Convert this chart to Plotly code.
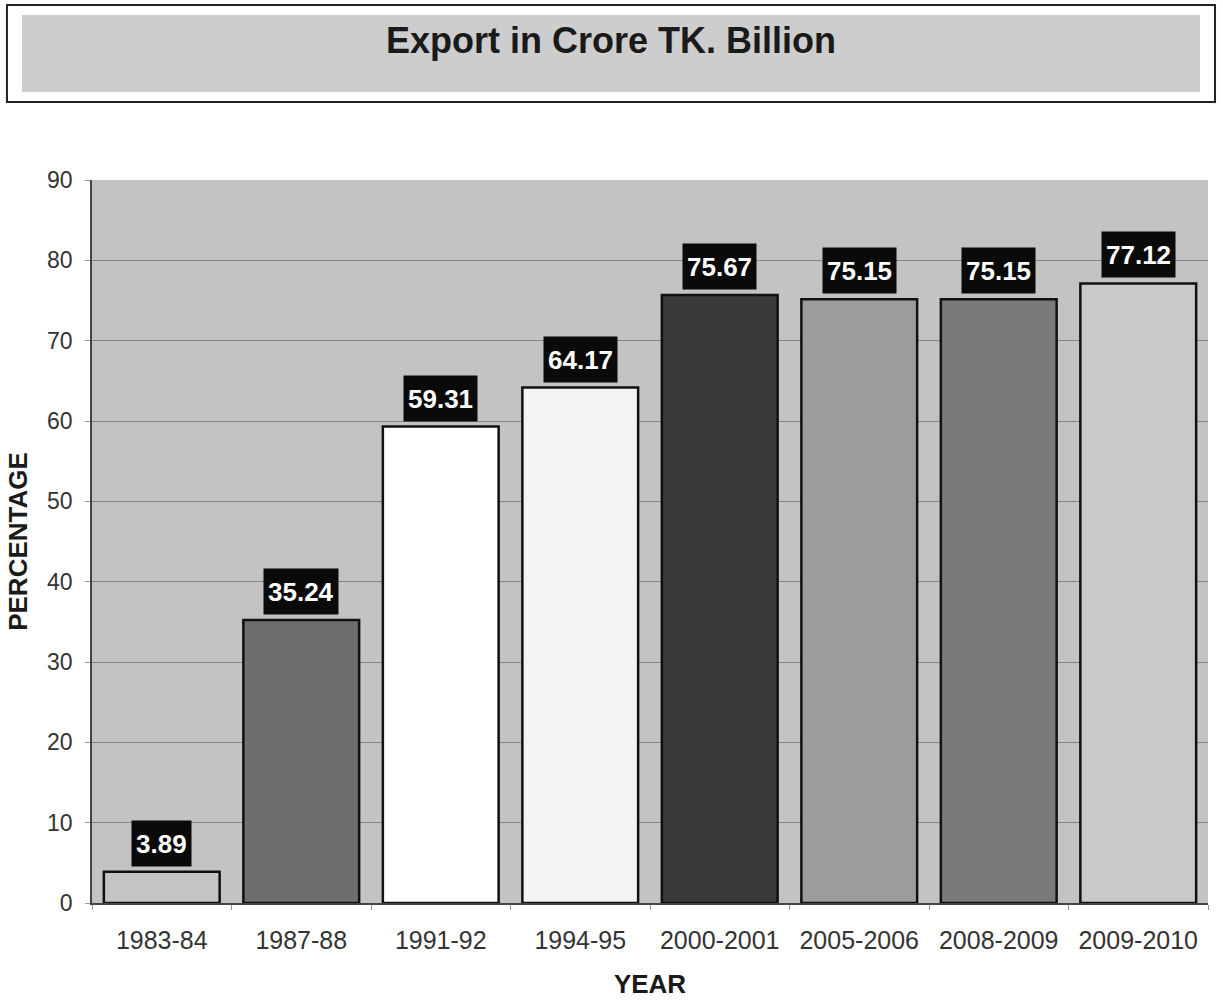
import plotly.graph_objects as go

# Export figures by fiscal year
years = ["1983-84", "1987-88", "1991-92", "1994-95",
         "2000-2001", "2005-2006", "2008-2009", "2009-2010"]
values = [3.89, 35.24, 59.31, 64.17, 75.67, 75.15, 75.15, 77.12]
bar_colors = ["#c4c4c4", "#6e6e6e", "#ffffff", "#f3f3f3",
              "#3a3a3a", "#9c9c9c", "#7a7a7a", "#c9c9c9"]
y_ticks = [0, 10, 20, 30, 40, 50, 60, 70, 80, 90]

FONT = "Liberation Sans, Arial, Helvetica, sans-serif"

fig = go.Figure()
fig.add_trace(go.Bar(
    x=years,
    y=values,
    marker=dict(color=bar_colors, line=dict(color="#111111", width=2.5)),
    showlegend=False,
    hoverinfo="x+y",
))

# Value labels in black boxes above each bar
for yr, v in zip(years, values):
    fig.add_annotation(
        x=yr, y=v, xref="x", yref="y",
        text=f"<b>{v:.2f}</b>",
        showarrow=False,
        yanchor="bottom", yshift=5,
        height=37,
        font=dict(family=FONT, size=26, color="white"),
        bgcolor="#0a0a0a",
        borderpad=4,
    )

# Framed title band
fig.add_shape(type="rect", xref="paper", yref="paper",
              x0=-0.0762, x1=1.0063, y0=1.1079, y1=1.2420,
              line=dict(color="#222222", width=2), fillcolor="white", layer="below")
fig.add_shape(type="rect", xref="paper", yref="paper",
              x0=-0.0627, x1=0.9928, y0=1.1217, y1=1.2282,
              line=dict(width=0), fillcolor="#cdcdcd", layer="below")

fig.update_layout(
    width=1223, height=1001,
    margin=dict(l=92, r=15, t=180, b=98),
    paper_bgcolor="white",
    plot_bgcolor="#c3c3c3",
    bargap=0.17,
    font=dict(family=FONT, color="#2a2a2a"),
    title=dict(
        text="<b>Export in Crore TK. Billion</b>",
        x=0.4996, xanchor="center", xref="container",
        y=0.96, yanchor="middle", yref="container",
        font=dict(family=FONT, size=36, color="#1a1a1a"),
    ),
    xaxis=dict(
        title=dict(text="<b>YEAR</b>", font=dict(size=26, color="#1a1a1a"), standoff=22),
        tickfont=dict(size=25, color="#333333"),
        ticklabelstandoff=14,
        showline=True, linecolor="#444444", linewidth=1.5,
        ticks="outside", ticklen=5, tickcolor="#999999",
        tickson="boundaries",
        showgrid=False,
        automargin=False,
    ),
    yaxis=dict(
        title=dict(text="<b>PERCENTAGE</b>", font=dict(size=26, color="#1a1a1a"), standoff=12),
        range=[0, 90],
        tickvals=y_ticks,
        tickfont=dict(size=23, color="#333333"),
        ticklabelstandoff=8,
        showline=True, linecolor="#444444", linewidth=1.5,
        ticks="outside", ticklen=5, tickcolor="#999999",
        showgrid=True, gridcolor="#858585", gridwidth=1,
        zeroline=False,
        automargin=False,
    ),
)

fig.write_html("out.html")
